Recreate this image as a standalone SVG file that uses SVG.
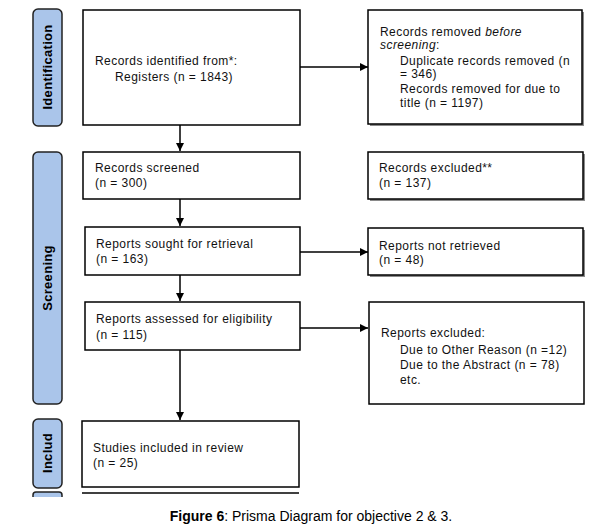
<svg xmlns="http://www.w3.org/2000/svg" width="598" height="527" viewBox="0 0 598 527">
<style>
.box{fill:#fff;stroke:#000;stroke-width:1.5}
.sbox{fill:#fff;stroke:#000;stroke-width:1.5}
.shadow{fill:#8a8a8a}
.side{fill:#aac5ea;stroke:#222;stroke-width:1.5}
.t{font-family:"Liberation Sans",Arial,sans-serif;font-size:12px;letter-spacing:0.45px;fill:#111}
.lab{font-family:"Liberation Sans",Arial,sans-serif;font-size:13px;font-weight:bold;fill:#000;letter-spacing:0.3px}
.cap{font-family:"Liberation Sans",Arial,sans-serif;font-size:14px;fill:#000}
.ln{stroke:#000;stroke-width:1.5;fill:none}
</style>
<defs>
<marker id="ah" viewBox="0 0 10 10" refX="10" refY="5" markerWidth="8" markerHeight="8" markerUnits="userSpaceOnUse" orient="auto">
<path d="M0,0 L10,5 L0,10 z" fill="#000"/>
</marker>
</defs>

<g id="side-identification">
<rect class="side" x="33" y="9" width="29" height="117" rx="5"/>
<text class="lab" transform="translate(52,67) rotate(-90)" text-anchor="middle">Identification</text>
</g>
<g id="side-screening">
<rect class="side" x="33" y="152" width="29" height="252" rx="5"/>
<text class="lab" transform="translate(52,278) rotate(-90)" text-anchor="middle">Screening</text>
</g>
<g id="side-included">
<rect class="side" x="33" y="419" width="29" height="69" rx="5"/>
<text class="lab" transform="translate(52,453) rotate(-90)" text-anchor="middle">Includ</text>
<path d="M33,497 L33,495 Q33,492 36,492 L59,492 Q62,492 62,495 L62,497" class="side"/>
</g>

<g id="n-identified">
<rect class="box" x="83" y="10" width="217" height="115"/>
<text class="t" x="95" y="65">Records identified from*:</text>
<text class="t" x="115" y="81">Registers (n = 1843)</text>
</g>
<g id="n-removed">
<rect class="shadow" x="370" y="12" width="214" height="114"/>
<rect class="sbox" x="368" y="10" width="214" height="114"/>
<text class="t" x="380" y="36">Records removed <tspan font-style="italic">before</tspan></text>
<text class="t" x="380" y="49" font-style="italic">screening<tspan font-style="normal">:</tspan></text>
<text class="t" x="400" y="65">Duplicate records removed (n</text>
<text class="t" x="400" y="78">= 346)</text>
<text class="t" x="400" y="93">Records removed for due to</text>
<text class="t" x="400" y="107">title (n = 1197)</text>
</g>
<g id="n-screened">
<rect class="box" x="83" y="152" width="217" height="47"/>
<text class="t" x="95" y="172">Records screened</text>
<text class="t" x="95" y="187">(n = 300)</text>
</g>
<g id="n-excluded">
<rect class="shadow" x="370" y="154" width="215" height="47"/>
<rect class="sbox" x="368" y="152" width="215" height="47"/>
<text class="t" x="379" y="172">Records excluded**</text>
<text class="t" x="379" y="187">(n = 137)</text>
</g>
<g id="n-sought">
<rect class="box" x="85" y="227" width="215" height="48"/>
<text class="t" x="96" y="248">Reports sought for retrieval</text>
<text class="t" x="96" y="263">(n = 163)</text>
</g>
<g id="n-notretrieved">
<rect class="shadow" x="370" y="230" width="215" height="47"/>
<rect class="sbox" x="368" y="228" width="215" height="47"/>
<text class="t" x="379" y="250">Reports not retrieved</text>
<text class="t" x="379" y="264">(n = 48)</text>
</g>
<g id="n-assessed">
<rect class="box" x="85" y="302" width="215" height="48"/>
<text class="t" x="96" y="323">Reports assessed for eligibility</text>
<text class="t" x="96" y="339">(n = 115)</text>
</g>
<g id="n-repexcluded">
<rect class="box" x="369" y="302" width="215" height="102"/>
<text class="t" x="381" y="337">Reports excluded:</text>
<text class="t" x="400" y="354">Due to Other Reason (n =12)</text>
<text class="t" x="400" y="369">Due to the Abstract (n = 78)</text>
<text class="t" x="400" y="384">etc.</text>
</g>
<g id="n-included">
<rect class="box" x="82" y="421" width="217" height="66"/>
<text class="t" x="93" y="452">Studies included in review</text>
<text class="t" x="93" y="467">(n = 25)</text>
<line class="ln" x1="82" y1="493" x2="299" y2="493"/>
</g>

<g id="connectors">
<line class="ln" x1="300" y1="67" x2="368" y2="67" marker-end="url(#ah)"/>
<line class="ln" x1="180" y1="125" x2="180" y2="151" marker-end="url(#ah)"/>
<line class="ln" x1="180" y1="199" x2="180" y2="226" marker-end="url(#ah)"/>
<line class="ln" x1="300" y1="252" x2="368" y2="252" marker-end="url(#ah)"/>
<line class="ln" x1="180" y1="275" x2="180" y2="301" marker-end="url(#ah)"/>
<line class="ln" x1="300" y1="328" x2="368" y2="328" marker-end="url(#ah)"/>
<line class="ln" x1="180" y1="350" x2="180" y2="420" marker-end="url(#ah)"/>
</g>

<text class="cap" x="311" y="521" text-anchor="middle"><tspan font-weight="bold">Figure 6</tspan>: Prisma Diagram for objective 2 &amp; 3.</text>
</svg>
